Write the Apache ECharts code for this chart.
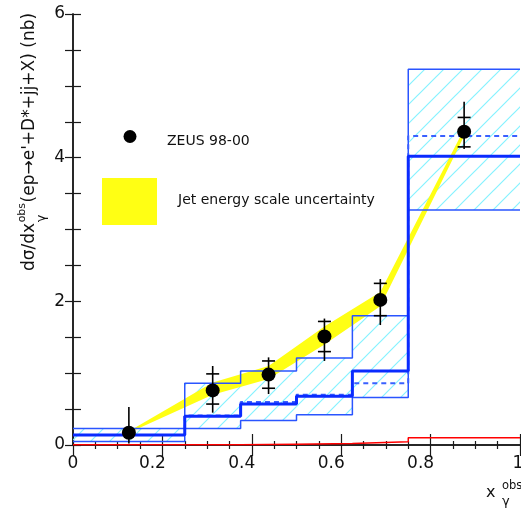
<!DOCTYPE html>
<html>
<head>
<meta charset="utf-8">
<script src="https://cdn.jsdelivr.net/npm/echarts@6/dist/echarts.min.js"></script>
<style>
  html, body { margin: 0; padding: 0; background: #fff; }
  #chart { width: 521px; height: 517px; }
</style>
</head>
<body>
<div id="chart"></div>
<script>
// Bin edges in x_gamma^obs
const binEdges = [0, 0.25, 0.375, 0.5, 0.625, 0.75, 1.0];

// ZEUS 98-00 measurement: bin centres, values, inner (stat) and outer (total) error ends
const dataX    = [0.125, 0.3125, 0.4375, 0.5625, 0.6875, 0.875];
const dataY    = [0.17, 0.76, 0.98, 1.51, 2.02, 4.36];
const statLow  = [null, 0.57, 0.79, 1.30, 1.80, 4.15];
const statHigh = [null, 0.99, 1.17, 1.72, 2.25, 4.56];
const totLow   = [0.02, 0.45, 0.71, 1.17, 1.67, 4.12];
const totHigh  = [0.53, 1.10, 1.22, 1.76, 2.31, 4.78];

// Jet energy scale uncertainty band (at the bin centres)
const jesUpper = [0.19, 0.87, 1.10, 1.65, 2.13, 4.40];
const jesLower = [0.17, 0.70, 0.92, 1.40, 1.93, 4.30];

// NLO predictions per bin
const nloCentral = [0.14, 0.40, 0.57, 0.68, 1.03, 4.02];
const nloDashed  = [0.14, 0.41, 0.60, 0.70, 0.86, 4.30];
const nloUpper   = [0.23, 0.86, 1.03, 1.21, 1.80, 5.23];
const nloLower   = [0.05, 0.23, 0.34, 0.42, 0.66, 3.27];
const redHist    = [0.005, 0.005, 0.012, 0.02, 0.045, 0.10];

// Axis ranges
const xRange = [0, 1];
const yRange = [0, 6];

const FONT = "'DejaVu Sans', sans-serif";
const YELLOW = '#ffff14';
const AXIS_COLOR = '#1a1a1a';

function histPoints(vals) {
  return binEdges.map((e, i) => [e, vals[Math.min(i, vals.length - 1)]]);
}

function stepLine(vals, color, width, type, z) {
  return {
    type: 'line', step: 'end', data: histPoints(vals), symbol: 'none',
    lineStyle: { color: color, width: width, type: type },
    z: z, silent: true, clip: true
  };
}

// Diagonal hatch tile used to fill the NLO uncertainty band
function hatchTile() {
  const s = 19;
  const c = document.createElement('canvas');
  c.width = s; c.height = s;
  const g = c.getContext('2d');
  g.strokeStyle = '#86f2ff';
  g.lineWidth = 1.2;
  g.beginPath();
  g.moveTo(-1, s + 1); g.lineTo(s + 1, -1);
  g.moveTo(-1, 1); g.lineTo(1, -1);
  g.moveTo(s - 1, s + 1); g.lineTo(s + 1, s - 1);
  g.stroke();
  return c;
}
const hatchFill = { image: hatchTile(), repeat: 'repeat' };

function textWidth(str, size) {
  const g = document.createElement('canvas').getContext('2d');
  g.font = size + "px 'DejaVu Sans'";
  return g.measureText(str).width;
}

// Y-axis title pieces, laid out along the rotated baseline
const yTitleA = 'dσ/dx', yTitleSup = 'obs', yTitleSub = 'γ', yTitleB = "(ep→e'+D*+jj+X) (nb)";
const wA = textWidth(yTitleA, 17);
const wSup = textWidth(yTitleSup, 11);
const wSub = textWidth(yTitleSub, 13);
const yTitleBx = wA + Math.max(wSup, wSub) + 1;

const tickStyle = { color: AXIS_COLOR, width: 1.2 };

const chart = echarts.init(document.getElementById('chart'), null, { renderer: 'canvas' });

chart.setOption({
  animation: false,
  backgroundColor: '#fff',
  grid: { left: 73, right: 1, top: 14, bottom: 72, containLabel: false, outerBoundsMode: 'none' },
  xAxis: [{
    type: 'value', min: xRange[0], max: xRange[1], interval: 0.2, position: 'bottom',
    axisLine: { lineStyle: { color: AXIS_COLOR, width: 1.5 } },
    axisTick: { inside: true, length: 11, lineStyle: tickStyle },
    minorTick: { show: true, splitNumber: 4, length: 4, lineStyle: tickStyle },
    splitLine: { show: false },
    axisLabel: {
      margin: 10, color: '#111', fontFamily: FONT, fontSize: 17,
      formatter: v => v === 0 ? '{z|0}' : (v === 1 ? '{e|1}' : '{d|' + v + '}'),
      rich: {
        z: { fontFamily: FONT, fontSize: 17, color: '#111' },
        d: { fontFamily: FONT, fontSize: 17, color: '#111', padding: [0, 20, 0, 0] },
        e: { fontFamily: FONT, fontSize: 17, color: '#111', padding: [0, 4, 0, 0] }
      }
    }
  }, {
    type: 'value', min: xRange[0], max: xRange[1], interval: 0.2, position: 'top',
    axisLine: { lineStyle: { color: AXIS_COLOR, width: 1.5 } },
    axisTick: { inside: true, length: 11, lineStyle: tickStyle },
    minorTick: { show: true, splitNumber: 4, length: 4, lineStyle: tickStyle },
    splitLine: { show: false },
    axisLabel: { show: false }
  }],
  yAxis: [{
    type: 'value', min: yRange[0], max: yRange[1], interval: 2, position: 'left',
    axisLine: { show: true, lineStyle: { color: AXIS_COLOR, width: 1.5 } },
    axisTick: { show: true, inside: true, length: 8, lineStyle: tickStyle },
    minorTick: { show: true, splitNumber: 4, length: 8, lineStyle: tickStyle },
    splitLine: { show: false },
    axisLabel: { margin: 8, color: '#111', fontFamily: FONT, fontSize: 17, padding: [3, 0, 0, 0] }
  }, {
    type: 'value', min: yRange[0], max: yRange[1], interval: 2, position: 'right',
    axisLine: { show: true, lineStyle: { color: AXIS_COLOR, width: 1.5 } },
    axisTick: { show: true, inside: true, length: 8, lineStyle: tickStyle },
    minorTick: { show: true, splitNumber: 4, length: 8, lineStyle: tickStyle },
    splitLine: { show: false },
    axisLabel: { show: false }
  }],
  series: [
    // hatched NLO uncertainty band
    {
      type: 'custom', z: 1, clip: true, silent: true,
      data: nloUpper.map((u, i) => [binEdges[i], binEdges[i + 1], nloLower[i], u]),
      renderItem: function (params, api) {
        const a = api.coord([api.value(0), api.value(3)]);
        const b = api.coord([api.value(1), api.value(2)]);
        return {
          type: 'rect',
          shape: { x: a[0], y: a[1], width: b[0] - a[0], height: b[1] - a[1] },
          style: { fill: hatchFill }
        };
      }
    },
    // jet energy scale band
    {
      type: 'custom', z: 2, clip: true, silent: true,
      data: [[0]],
      renderItem: function (params, api) {
        const pts = [];
        for (let i = 0; i < dataX.length; i++) pts.push(api.coord([dataX[i], jesUpper[i]]));
        for (let i = dataX.length - 1; i >= 0; i--) pts.push(api.coord([dataX[i], jesLower[i]]));
        return { type: 'polygon', shape: { points: pts }, style: { fill: YELLOW } };
      }
    },
    stepLine(nloUpper, '#2a55ff', 1.5, 'solid', 3),
    stepLine(nloLower, '#2a55ff', 1.5, 'solid', 3),
    stepLine(nloDashed, '#3a60ff', 2, [5, 4], 3),
    stepLine(nloCentral, '#0a2bff', 3, 'solid', 3),
    stepLine(redHist, '#ff0000', 1.5, 'solid', 4),
    // error bars
    {
      type: 'custom', z: 5, silent: true,
      data: dataX.map((x, i) => [x, dataY[i], i]),
      renderItem: function (params, api) {
        const i = api.value(2);
        const x = api.value(0);
        const top = api.coord([x, totHigh[i]]);
        const bot = api.coord([x, totLow[i]]);
        const st = { stroke: '#000', lineWidth: 1.6 };
        const children = [{ type: 'line', shape: { x1: top[0], y1: top[1], x2: bot[0], y2: bot[1] }, style: st }];
        if (statHigh[i] != null) {
          [statHigh[i], statLow[i]].forEach(v => {
            const p = api.coord([x, v]);
            children.push({ type: 'line', shape: { x1: p[0] - 6.5, y1: p[1], x2: p[0] + 6.5, y2: p[1] }, style: st });
          });
        }
        return { type: 'group', children: children };
      }
    },
    // data points
    {
      type: 'scatter', z: 6, silent: true,
      data: dataX.map((x, i) => [x, dataY[i]]),
      symbol: 'circle', symbolSize: 14,
      itemStyle: { color: '#000', opacity: 1 }
    }
  ],
  graphic: [
    // legend
    { type: 'circle', shape: { cx: 130, cy: 136.5, r: 6.5 }, style: { fill: '#000' }, z: 10 },
    { type: 'text', x: 167, y: 141.5, style: { text: 'ZEUS 98-00', font: "14px 'DejaVu Sans'", fill: '#111', align: 'left', verticalAlign: 'middle' }, z: 10 },
    { type: 'rect', shape: { x: 102, y: 178, width: 55, height: 47 }, style: { fill: YELLOW }, z: 10 },
    { type: 'text', x: 178, y: 200, style: { text: 'Jet energy scale uncertainty', font: "14px 'DejaVu Sans'", fill: '#111', align: 'left', verticalAlign: 'middle' }, z: 10 },
    // y-axis title
    {
      type: 'group', x: 30, y: 271, rotation: Math.PI / 2, z: 10,
      children: [
        { type: 'text', x: 0, y: 0, style: { text: yTitleA, font: "17px 'DejaVu Sans'", fill: '#111', align: 'left', verticalAlign: 'middle' } },
        { type: 'text', x: wA + 0.5, y: -8, style: { text: yTitleSup, font: "11px 'DejaVu Sans'", fill: '#111', align: 'left', verticalAlign: 'middle' } },
        { type: 'text', x: wA + 0.5, y: 12, style: { text: yTitleSub, font: "13px 'DejaVu Sans'", fill: '#111', align: 'left', verticalAlign: 'middle' } },
        { type: 'text', x: yTitleBx, y: 0, style: { text: yTitleB, font: "17px 'DejaVu Sans'", fill: '#111', align: 'left', verticalAlign: 'middle' } }
      ]
    },
    // x-axis title
    { type: 'text', x: 486, y: 493, style: { text: 'x', font: "16px 'DejaVu Sans'", fill: '#111', align: 'left', verticalAlign: 'middle' }, z: 10 },
    { type: 'text', x: 502, y: 486, style: { text: 'obs', font: "11.5px 'DejaVu Sans'", fill: '#111', align: 'left', verticalAlign: 'middle' }, z: 10 },
    { type: 'text', x: 502, y: 502, style: { text: 'γ', font: "13px 'DejaVu Sans'", fill: '#111', align: 'left', verticalAlign: 'middle' }, z: 10 }
  ]
});
</script>
</body>
</html>
